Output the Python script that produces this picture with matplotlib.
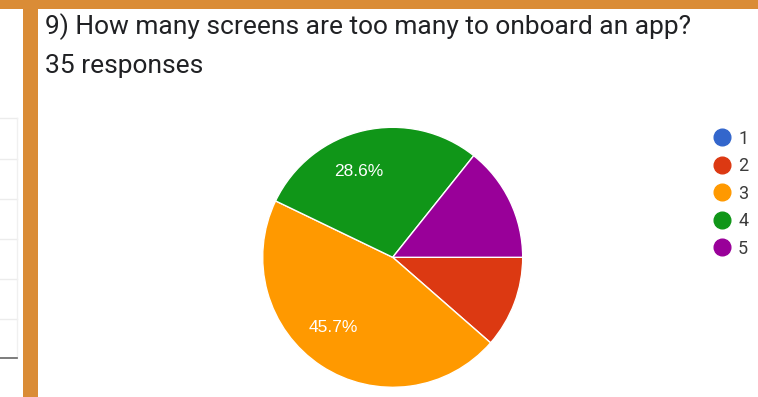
import matplotlib.pyplot as plt
from matplotlib.patches import Rectangle
from matplotlib.lines import Line2D
import numpy as np

# data
categories = ['1', '2', '3', '4', '5']
counts = [0, 4, 16, 10, 5]
colors = ['#3366cc', '#dc3912', '#ff9900', '#109618', '#990099']
title = '9) How many screens are too many to onboard an app?'
subtitle = '35 responses'

W, H = 758, 397
fig = plt.figure(figsize=(W / 100, H / 100), dpi=100)


def fx(x):
    return x / W


def fy(y):
    return 1 - y / H


# orange frame of the screenshot
orange = '#da8c36'
fig.add_artist(Rectangle((0, fy(9)), 1, 9 / H, transform=fig.transFigure,
                         color=orange, lw=0))
fig.add_artist(Rectangle((fx(23), 0), 15 / W, 1, transform=fig.transFigure,
                         color=orange, lw=0))

# bits of the table on the left
for yy in [118, 159, 199, 239, 279, 319]:
    fig.add_artist(Line2D([0, fx(17)], [fy(yy), fy(yy)], transform=fig.transFigure,
                          color='#ececec', lw=1))
fig.add_artist(Line2D([fx(17), fx(17)], [fy(118), fy(358)], transform=fig.transFigure,
                      color='#f0f0f0', lw=1))
fig.add_artist(Line2D([0, fx(17)], [fy(358), fy(358)], transform=fig.transFigure,
                      color='#666666', lw=1.2))

# header
fig.text(fx(45), fy(34.5), title, fontsize=19, family='Roboto', color='#202124',
         va='baseline', ha='left')
fig.text(fx(45), fy(73), subtitle, fontsize=19, family='Roboto', color='#202124',
         va='baseline', ha='left')

# pie
cx, cy, r = 392.7, 257.3, 130
ax = fig.add_axes([fx(cx - r), fy(cy + r), 2 * r / W, 2 * r / H])
wedges, _ = ax.pie(counts, colors=colors, startangle=0, counterclock=False, radius=1,
                   wedgeprops=dict(edgecolor='white', linewidth=1))
ax.set_xlim(-1, 1)
ax.set_ylim(-1, 1)
ax.axis('off')

total = sum(counts)
shift = {'3': -7, '4': 9}
for w, c, cat in zip(wedges, counts, categories):
    if c / total > 0.2:
        mid = np.deg2rad((w.theta1 + w.theta2) / 2 + shift.get(cat, 0))
        ax.text(0.71 * np.cos(mid), 0.71 * np.sin(mid), f'{100 * c / total:.1f}%',
                ha='center', va='center', color='white', fontsize=12.5,
                family='Liberation Sans', fontweight='medium')

# legend
handles = [Line2D([], [], marker='o', ls='', markersize=12, markerfacecolor=c,
                  markeredgecolor=c) for c in colors]
fig.legend(handles, categories, loc='upper left', bbox_to_anchor=(fx(711), fy(129.5)),
           frameon=False, prop={'family': 'Roboto', 'size': 13}, labelcolor='#3c3c3c',
           labelspacing=0.53, handletextpad=0.3, handlelength=1.2, borderpad=0,
           borderaxespad=0)

fig.savefig('out.png', dpi=100)
